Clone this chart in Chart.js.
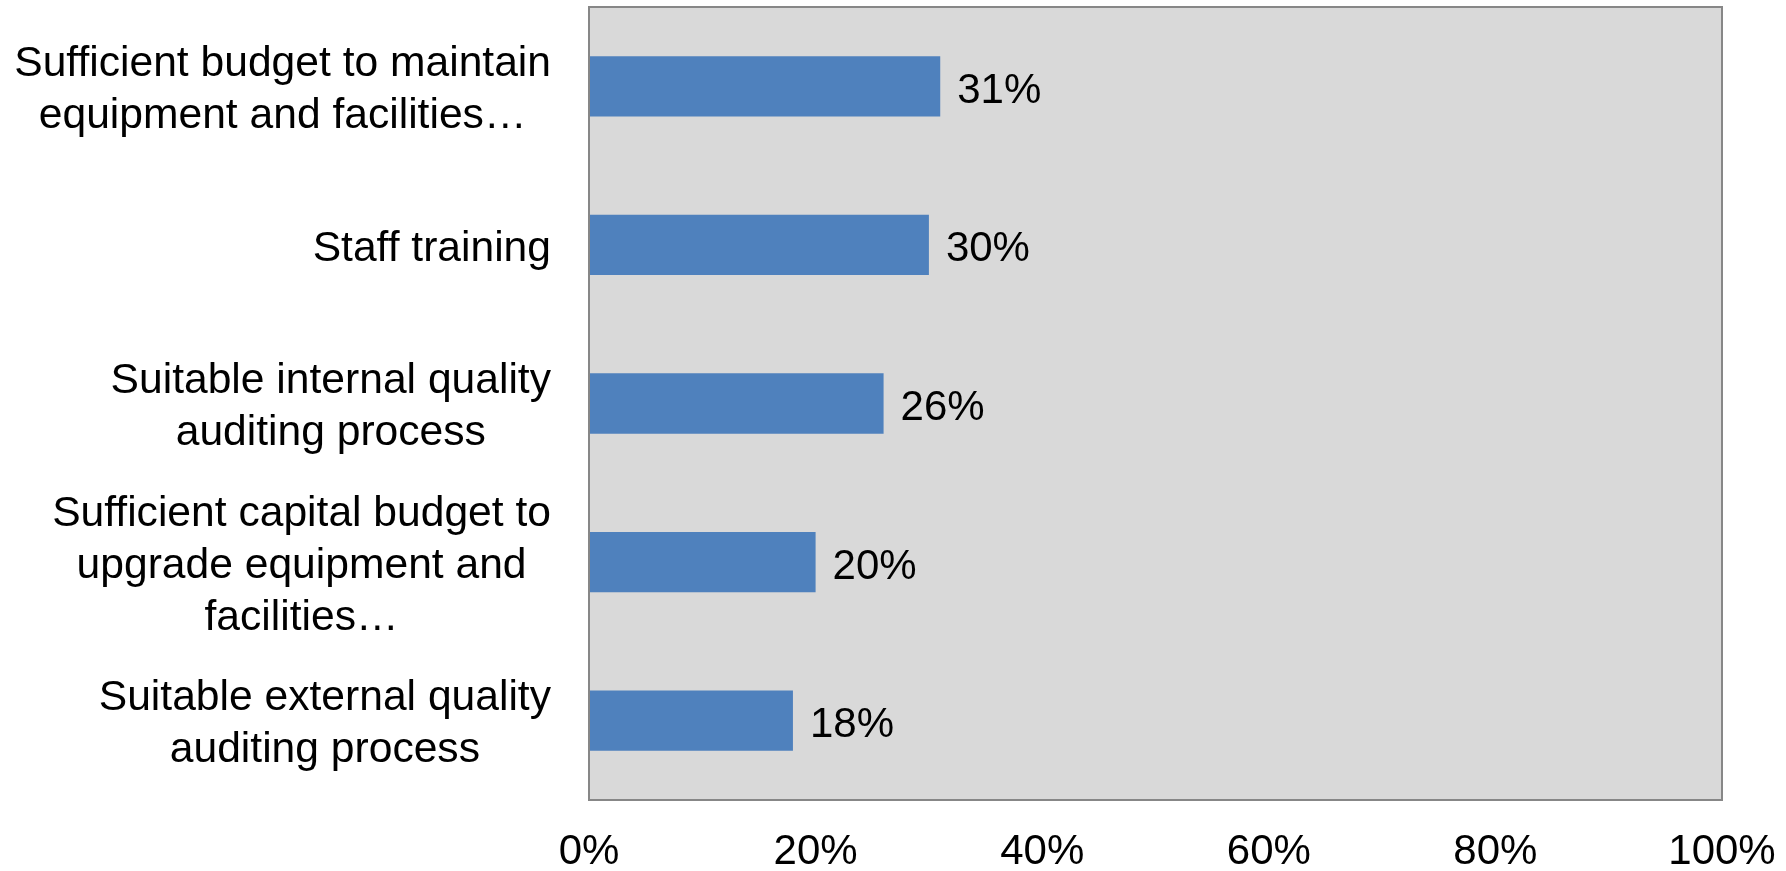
<!DOCTYPE html>
<html>
<head>
<meta charset="utf-8">
<script src="https://cdn.jsdelivr.net/npm/chart.js@4"></script>
<style>
  html, body { margin: 0; padding: 0; background: #fff; }
  canvas { display: block; }
</style>
</head>
<body>
<canvas id="chart" width="1786" height="871"></canvas>
<script>
/* ── Data ── */
const categories = [
  ['Sufficient budget to maintain', 'equipment and facilities…'],
  ['Staff training'],
  ['Suitable internal quality', 'auditing process'],
  ['Sufficient capital budget to', 'upgrade equipment and', 'facilities…'],
  ['Suitable external quality', 'auditing process']
];
const values = [31, 30, 26, 20, 18];
const xTicks = [0, 20, 40, 60, 80, 100];

/* ── Styling ── */
const FONT = '"Liberation Sans", Arial, sans-serif';
const FONT_SIZE = 42;
const CAT_FONT_SIZE = 42.6;
const LINE_H = 52;
const BAR_COLOR = '#4f81bd';
const PLOT_BG = '#d9d9d9';
const PLOT_BORDER = '#878787';

/* ── Plot area background + frame ── */
const plotFrame = {
  id: 'plotFrame',
  beforeDatasetsDraw(chart) {
    const { ctx, chartArea: a } = chart;
    ctx.save();
    ctx.fillStyle = PLOT_BG;
    ctx.fillRect(a.left, a.top, a.right - a.left, a.bottom - a.top);
    ctx.restore();
  },
  afterDatasetsDraw(chart) {
    const { ctx, chartArea: a } = chart;
    ctx.save();
    ctx.strokeStyle = PLOT_BORDER;
    ctx.lineWidth = 2;
    ctx.strokeRect(a.left, a.top, a.right - a.left, a.bottom - a.top);
    ctx.restore();
  }
};

/* ── Category labels: block right-aligned, lines centred in the block ── */
const categoryLabels = {
  id: 'categoryLabels',
  afterDraw(chart) {
    const { ctx } = chart;
    const yScale = chart.scales.y;
    const rightEdge = chart.chartArea.left - 38;
    ctx.save();
    ctx.font = `${CAT_FONT_SIZE}px ${FONT}`;
    ctx.fillStyle = '#000';
    ctx.textAlign = 'center';
    ctx.textBaseline = 'middle';
    categories.forEach((lines, i) => {
      const yc = yScale.getPixelForValue(i);
      const blockW = Math.max(...lines.map(l => ctx.measureText(l).width));
      const xc = rightEdge - blockW / 2;
      lines.forEach((line, j) => {
        const y = yc + (j - (lines.length - 1) / 2) * LINE_H + 4;
        ctx.fillText(line, xc, y);
      });
    });
    ctx.restore();
  }
};

/* ── Value labels at bar ends ── */
const valueLabels = {
  id: 'valueLabels',
  afterDatasetsDraw(chart) {
    const { ctx } = chart;
    const meta = chart.getDatasetMeta(0);
    ctx.save();
    ctx.font = `${FONT_SIZE}px ${FONT}`;
    ctx.fillStyle = '#000';
    ctx.textAlign = 'left';
    ctx.textBaseline = 'middle';
    meta.data.forEach((bar, i) => {
      ctx.fillText(values[i] + '%', bar.x + 17, bar.y + 5);
    });
    ctx.restore();
  }
};

new Chart(document.getElementById('chart'), {
  type: 'bar',
  data: {
    labels: categories.map(c => c.join(' ')),
    datasets: [{
      data: values,
      backgroundColor: BAR_COLOR,
      borderWidth: 0,
      categoryPercentage: 1,
      barPercentage: 0.38
    }]
  },
  options: {
    indexAxis: 'y',
    responsive: false,
    animation: false,
    events: [],
    layout: { padding: { top: 7, right: 64, left: 0, bottom: 0 } },
    plugins: {
      legend: { display: false },
      tooltip: { enabled: false }
    },
    scales: {
      x: {
        min: 0,
        max: 100,
        afterBuildTicks(scale) { scale.ticks = xTicks.map(v => ({ value: v })); },
        grid: { display: false },
        border: { display: false },
        ticks: {
          color: '#000',
          padding: 19,
          font: { family: FONT, size: FONT_SIZE, lineHeight: 1.2 },
          callback: v => v + '%'
        },
        afterFit(scale) {
          scale.height = 71;
          // end labels may overhang; the layout padding already leaves room
          scale.paddingLeft = 0;
          scale.paddingRight = 0;
        }
      },
      y: {
        grid: { display: false },
        border: { display: false },
        ticks: { display: false },
        afterFit(scale) { scale.width = 589; }
      }
    }
  },
  plugins: [plotFrame, categoryLabels, valueLabels]
});
</script>
</body>
</html>
